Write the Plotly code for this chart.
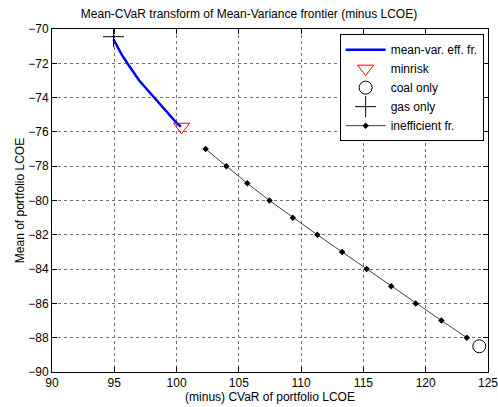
import plotly.graph_objects as go

# Data
eff_x = [94.94, 95.22, 95.6, 96.05, 96.5, 97.0, 97.6, 98.2, 98.78, 99.37, 100.03, 100.35]
eff_y = [-70.6, -71.0, -71.5, -72.0, -72.5, -73.0, -73.5, -74.0, -74.5, -75.0, -75.5, -75.7]
minrisk_x = [100.4]
minrisk_y = [-75.7]
coal_x = [124.3]
coal_y = [-88.5]
gas_x = [94.94]
gas_y = [-70.45]
ineff_x = [102.33, 104.0, 105.68, 107.46, 109.33, 111.3, 113.29, 115.26, 117.23, 119.2, 121.26, 123.3]
ineff_y = [-77, -78, -79, -80, -81, -82, -83, -84, -85, -86, -87, -88]
x_ticks = [90, 95, 100, 105, 110, 115, 120, 125]
y_ticks = [-90, -88, -86, -84, -82, -80, -78, -76, -74, -72, -70]

fig = go.Figure()
fig.add_trace(go.Scatter(x=eff_x, y=eff_y, mode="lines", name="mean-var. eff. fr.",
                         line=dict(color="#0000ff", width=2.5)))
fig.add_trace(go.Scatter(x=minrisk_x, y=minrisk_y, mode="markers", name="minrisk",
                         marker=dict(symbol="triangle-down-open", size=14, color="#ff0000",
                                     line=dict(width=1, color="#ff0000"))))
fig.add_trace(go.Scatter(x=coal_x, y=coal_y, mode="markers", name="coal only",
                         marker=dict(symbol="circle-open", size=13, color="black",
                                     line=dict(width=1, color="black"))))
fig.add_trace(go.Scatter(x=gas_x, y=gas_y, mode="markers", name="gas only",
                         marker=dict(symbol="cross-thin-open", size=15, color="black",
                                     line=dict(width=1, color="black"))))
fig.add_trace(go.Scatter(x=ineff_x, y=ineff_y, mode="lines+markers", name="inefficient fr.",
                         line=dict(color="#404040", width=1),
                         marker=dict(symbol="diamond", size=5, color="black")))

axis_common = dict(showline=True, linecolor="black", linewidth=1, mirror="ticks",
                   ticks="inside", ticklen=5, tickcolor="black",
                   showgrid=True, gridcolor="#707070", griddash="dot", gridwidth=1,
                   zeroline=False, tickfont=dict(size=12, color="black"),
                   automargin=False, ticklabeloverflow="allow")

fig.update_layout(
    width=498, height=407,
    margin=dict(l=52, r=10, t=29, b=35),
    paper_bgcolor="white", plot_bgcolor="white",
    font=dict(family="Liberation Sans, Arial, sans-serif", size=12, color="black"),
    title=dict(text="Mean-CVaR transform of Mean-Variance frontier (minus LCOE)",
               x=0.5, xanchor="center", y=1 - 14 / 407, yanchor="middle",
               font=dict(size=12, color="black")),
    xaxis=dict(range=[90, 125], tickvals=x_ticks,
               title=dict(text="(minus) CVaR of portfolio LCOE", standoff=1, font=dict(size=12)),
               **axis_common),
    yaxis=dict(range=[-90, -70], tickvals=y_ticks,
               title=dict(text="Mean of portfolio LCOE", standoff=1, font=dict(size=12)),
               **axis_common),
    legend=dict(x=0.99, y=0.985, xanchor="right", yanchor="top",
                bgcolor="white", bordercolor="black", borderwidth=1,
                font=dict(size=12), itemwidth=40, tracegroupgap=0),
    showlegend=True,
)

fig.write_html("out.html", config={"displayModeBar": False},
               post_script="document.body.style.margin='0';document.body.style.overflow='hidden';")
